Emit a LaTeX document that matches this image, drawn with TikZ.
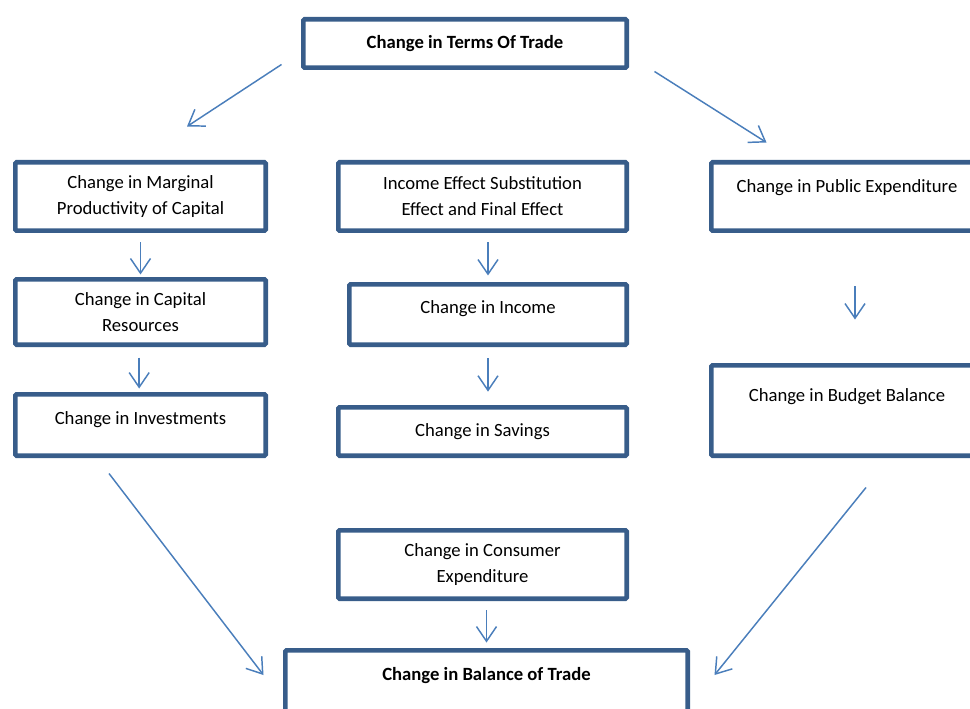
\documentclass[tikz,border=0pt]{standalone}
\usepackage{fontspec}
\setmainfont{Carlito}
\usetikzlibrary{arrows.meta}
\definecolor{boxblue}{HTML}{385D8A}
\definecolor{arrblue}{HTML}{4A7EBB}

\begin{document}
\begin{tikzpicture}[x=0.75pt, y=-0.75pt,
    box/.style={draw=boxblue, line width=3.5pt, rounded corners=1pt, inner sep=0pt,
      align=center, font=\fontsize{14}{19.5}\selectfont},
    lift/.style={text height=8pt, text depth=#1},
    arr/.style={draw=arrblue, line width=1.1pt, -{Straight Barb[length=11pt, width=15pt]}},
  ]
  \useasboundingbox (0,0) rectangle (970,709);

  % top and bottom
  \node[box, minimum width=242.5pt, minimum height=36.25pt] (tot) at (465,43.5)
    {\textbf{Change in Terms Of Trade}};
  \node[box, lift=28.7pt, minimum width=301.75pt, minimum height=65.5pt] (bot) at (486.5,694)
    {\textbf{Change in Balance of Trade}};

  % left column
  \node[box, minimum width=187.75pt, minimum height=51.25pt] (mpc) at (140.5,196.5)
    {Change in Marginal\\Productivity of Capital};
  \node[box, minimum width=187.75pt, minimum height=49pt] (cap) at (140.5,312)
    {Change in Capital\\Resources};
  \node[box, lift=9.2pt, minimum width=187.75pt, minimum height=46pt] (inv) at (140.5,425)
    {Change in Investments};

  % middle column
  \node[box, minimum width=216.25pt, minimum height=51.25pt] (ies) at (482.5,196.5)
    {Income Effect Substitution\\Effect and Final Effect};
  \node[box, lift=10pt, minimum width=208pt, minimum height=45.25pt] (inc) at (488,314.5)
    {Change in Income};
  \node[box, minimum width=216.25pt, minimum height=36.25pt] (sav) at (482.5,431.5)
    {Change in Savings};
  \node[box, minimum width=216.25pt, minimum height=51.25pt] (con) at (482.5,564.5)
    {Change in Consumer\\Expenditure};

  % right column
  \node[box, lift=14.4pt, minimum width=203.5pt, minimum height=51.25pt] (pub) at (847,196.5)
    {Change in Public Expenditure};
  \node[box, lift=21.2pt, minimum width=203.5pt, minimum height=67.75pt] (bud) at (847,410.5)
    {Change in Budget Balance};

  % arrows
  \draw[arr] ([shift={(-19.5,-5.5)}]tot.south west) -- ([shift={(46.5,-33.5)}]mpc.north);
  \draw[arr] ([shift={(25.5,1.5)}]tot.south east) -- ([shift={(57.5,-17.5)}]pub.north west);
  \draw[arr, shorten <=7.1pt, shorten >=1.9pt] (mpc.south) -- (cap.north);
  \draw[arr, shorten <=7.9pt, shorten >=2.6pt] ([xshift=-1]cap.south) -- ([xshift=-1]inv.north);
  \draw[arr, shorten <=7.1pt, shorten >=4.9pt] (ies.south -| inc.north) -- (inc.north);
  \draw[arr, shorten <=8.6pt, shorten >=10pt] (inc.south) -- (inc.south |- sav.north);
  \draw[arr, shorten <=40pt, shorten >=32.6pt] ([xshift=6]pub.south) -- ([xshift=6]bud.north);
  \draw[arr, shorten <=7.1pt, shorten >=4.1pt] (con.south -| bot.north) -- (bot.north);
  \draw[arr] ([shift={(-31.5,15.5)}]inv.south) -- ([shift={(-19.5,-19)}]bot.west);
  \draw[arr] ([shift={(19,29.5)}]bud.south) -- ([shift={(24.5,-19)}]bot.east);
\end{tikzpicture}
\end{document}
